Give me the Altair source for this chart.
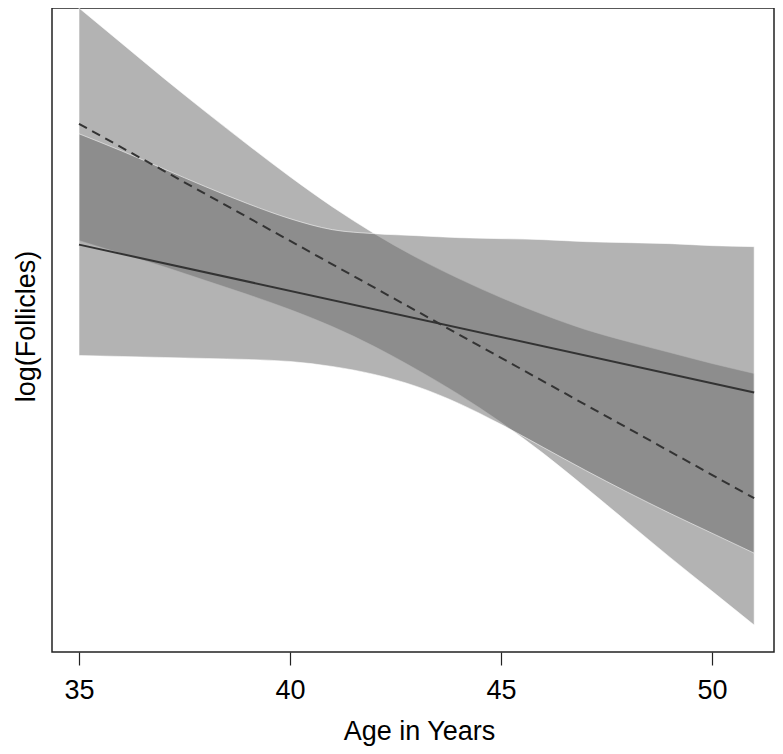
import altair as alt
import pandas as pd

# Age in years (x) and band / fit values (arbitrary log(Follicles) units)
years = [35, 36, 37, 38, 39, 40, 41, 42, 43, 44, 45, 46, 47, 48, 49, 50, 51]

# Confidence band around the dashed fit
dash_upper = [6.45, 6.10, 5.75, 5.41, 5.08, 4.76, 4.46, 4.19, 3.95, 3.74, 3.55, 3.38, 3.23, 3.11, 3.00, 2.89, 2.79]
dash_lower = [4.12, 3.99, 3.86, 3.72, 3.58, 3.43, 3.26, 3.06, 2.83, 2.58, 2.30, 1.99, 1.65, 1.30, 0.95, 0.61, 0.27]

# Confidence band around the solid fit
solid_upper = [5.19, 5.02, 4.84, 4.66, 4.49, 4.34, 4.23, 4.19, 4.17, 4.15, 4.14, 4.13, 4.11, 4.10, 4.09, 4.07, 4.06]
solid_lower = [2.97, 2.96, 2.95, 2.94, 2.93, 2.91, 2.86, 2.78, 2.66, 2.49, 2.28, 2.05, 1.82, 1.60, 1.39, 1.19, 0.99]

# Fitted lines (straight)
fit_years = [35, 51]
solid_fit = [4.08, 2.60]
dashed_fit = [5.29, 1.54]

bands = pd.DataFrame({
    "age": years * 2,
    "upper": dash_upper + solid_upper,
    "lower": dash_lower + solid_lower,
    "band": ["dashed"] * len(years) + ["solid"] * len(years),
})
fits = pd.DataFrame({
    "age": fit_years * 2,
    "value": dashed_fit + solid_fit,
    "fit": ["dashed"] * 2 + ["solid"] * 2,
})

xscale = alt.Scale(domain=[34.36, 51.47], nice=False, zero=False)
yscale = alt.Scale(domain=[0, 6.45], nice=False, zero=False)

xaxis = alt.Axis(
    values=[35, 40, 45, 50], title="Age in Years", grid=False, domain=False,
    tickSize=13, tickColor="#222", tickWidth=1.2,
    labelFont="Liberation Sans", labelFontSize=27, labelColor="#000", labelPadding=12,
    titleFont="Liberation Sans", titleFontSize=27, titleFontWeight="normal", titleColor="#000",
    titleY=87, titleX=367, titleBaseline="alphabetic",
)
yaxis = alt.Axis(
    title="log(Follicles)", grid=False, domain=False, ticks=False, labels=False,
    titleFont="Liberation Sans", titleFontSize=27, titleFontWeight="normal", titleColor="#000",
    titleX=-18, titleY=318, titleAngle=270, titleAlign="center", titleBaseline="alphabetic",
)

area = alt.Chart(bands).mark_area(
    color="#676767", fillOpacity=0.5, stroke="#ffffff", strokeOpacity=0.55, strokeWidth=1,
    interpolate="monotone",
).encode(
    x=alt.X("age:Q", scale=xscale, axis=xaxis),
    y=alt.Y("upper:Q", scale=yscale, axis=yaxis),
    y2="lower:Q",
    detail="band:N",
)

solid = alt.Chart(fits[fits.fit == "solid"]).mark_line(
    color="#333333", strokeWidth=2
).encode(x=alt.X("age:Q", scale=xscale), y=alt.Y("value:Q", scale=yscale))

dashed = alt.Chart(fits[fits.fit == "dashed"]).mark_line(
    color="#333333", strokeWidth=2, strokeDash=[9, 6]
).encode(x=alt.X("age:Q", scale=xscale), y=alt.Y("value:Q", scale=yscale))

chart = alt.layer(area, solid, dashed).properties(
    width=722, height=644,
    autosize=alt.AutoSizeParams(type="none"),
    padding={"left": 44, "top": 0, "right": 1, "bottom": 94},
    background="white",
).configure_view(stroke="#222222", strokeWidth=1.5)

chart.save("out.html", embed_options={"renderer": "svg", "actions": False})
